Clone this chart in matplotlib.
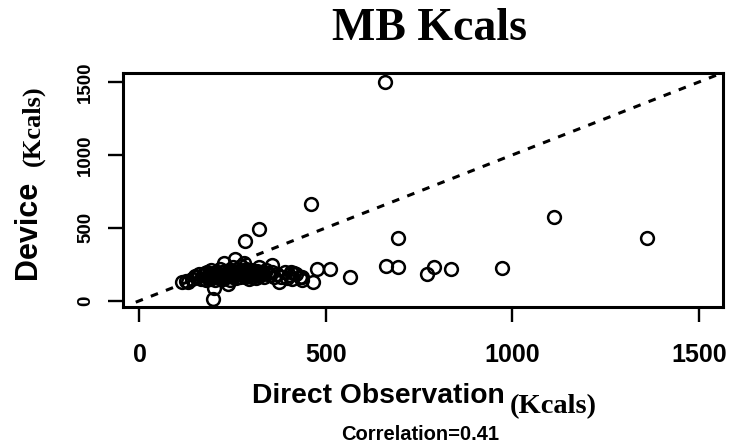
import matplotlib
matplotlib.use("Agg")
import matplotlib.pyplot as plt
from matplotlib import font_manager

# Direct observation vs. device energy expenditure (Kcals)
direct_obs = [
    # main cluster
    130, 140, 150, 155, 160, 165, 170, 175, 178, 180, 182, 185, 188, 190, 192,
    195, 197, 200, 202, 205, 207, 210, 212, 215, 217, 220, 222, 225, 228, 230,
    232, 235, 238, 240, 242, 245, 248, 250, 252, 255, 258, 260, 262, 265, 268,
    270, 272, 275, 278, 280, 283, 285, 288, 290, 292, 295, 298, 300, 303, 305,
    308, 310, 312, 315, 318, 320, 325, 330, 335, 340, 345, 350, 355, 360, 370,
    380, 390, 400, 410, 420, 430,
    # spread-out observations
    114, 126, 198, 200, 238, 227, 257, 281, 356, 321, 405, 414, 374, 396, 437,
    437, 466, 475, 512, 564, 283, 321, 460, 658, 662, 693, 692, 771, 789, 835,
    973, 1111, 1362,
]
device = [
    130, 150, 170, 160, 180, 150, 175, 190, 140, 160, 200, 170, 185, 150, 210,
    175, 160, 190, 140, 200, 170, 185, 155, 220, 165, 195, 175, 150, 205, 180,
    160, 190, 170, 210, 145, 185, 200, 165, 230, 175, 190, 155, 215, 180, 200,
    165, 240, 190, 175, 205, 160, 220, 185, 170, 195, 150, 210, 180, 165, 200,
    190, 175, 155, 205, 185, 170, 195, 180, 160, 210, 190, 175, 200, 165, 185,
    160, 195, 175, 150, 180, 165,
    128, 137, 14, 85, 115, 256, 284, 261, 245, 233, 199, 188, 130, 154, 142,
    165, 126, 215, 215, 165, 412, 490, 663, 1500, 238, 233, 432, 183, 229, 215,
    226, 576, 432,
]
ticks = [0, 500, 1000, 1500]
tick_labels = ["0", "500", "1000", "1500"]
axis_range = [-45, 1564]

available = {f.name for f in font_manager.fontManager.ttflist}
sans = ["Liberation Sans Narrow", "Liberation Sans", "DejaVu Sans"]
sans = [f for f in sans if f in available] or ["DejaVu Sans"]
serif = ["Liberation Serif", "DejaVu Serif"]
serif = [f for f in serif if f in available] or ["DejaVu Serif"]

W, H = 732, 447
fig = plt.figure(figsize=(W / 100, H / 100), dpi=100)
left, right, top, bottom = 122.7, 722.7, 72.7, 307.3
ax = fig.add_axes([left / W, 1 - bottom / H, (right - left) / W, (bottom - top) / H])

ax.plot([-10, axis_range[1]], [-10, axis_range[1]], color="black", lw=2.2,
        linestyle=(0, (2.5, 2.8)), dash_capstyle="butt", zorder=1)
ax.plot(direct_obs, device, linestyle="none", marker="o", markersize=9.2,
        markerfacecolor="none", markeredgecolor="black", markeredgewidth=1.8,
        zorder=2)

ax.set_xlim(axis_range)
ax.set_ylim(axis_range)
for s in ax.spines.values():
    s.set_linewidth(2.2)

ax.set_xticks(ticks)
ax.set_yticks(ticks)
ax.set_xticklabels(tick_labels, fontfamily=sans, fontweight="bold", fontsize=18)
ax.set_yticklabels(tick_labels, fontfamily=sans, fontweight="bold", fontsize=13.5,
                   rotation=90, va="center")
ax.tick_params(axis="x", length=10.5, width=1.7, pad=15)
ax.tick_params(axis="y", length=10.5, width=1.7, pad=10)


def px(x, y):
    return x / W, 1 - y / H


fig.text(*px(430, 29), "MB Kcals", fontfamily=serif, fontweight="bold",
         fontsize=33, ha="center", va="center")
fig.text(*px(505, 396), "Direct Observation", fontfamily=sans,
         fontweight="bold", fontsize=20.3, ha="right", va="center")
fig.text(*px(510, 407), "(Kcals)", fontfamily=serif, fontweight="bold",
         fontsize=20.5, ha="left", va="center")
fig.text(*px(420, 434), "Correlation=0.41", fontfamily=sans,
         fontweight="bold", fontsize=14.5, ha="center", va="center")
fig.text(*px(28, 230), "Device", fontfamily=sans, fontweight="bold",
         fontsize=22, ha="center", va="center", rotation=90)
fig.text(*px(33, 126), "(Kcals)", fontfamily=serif, fontweight="bold",
         fontsize=19, ha="center", va="center", rotation=90)

fig.savefig("out.png", dpi=100)
